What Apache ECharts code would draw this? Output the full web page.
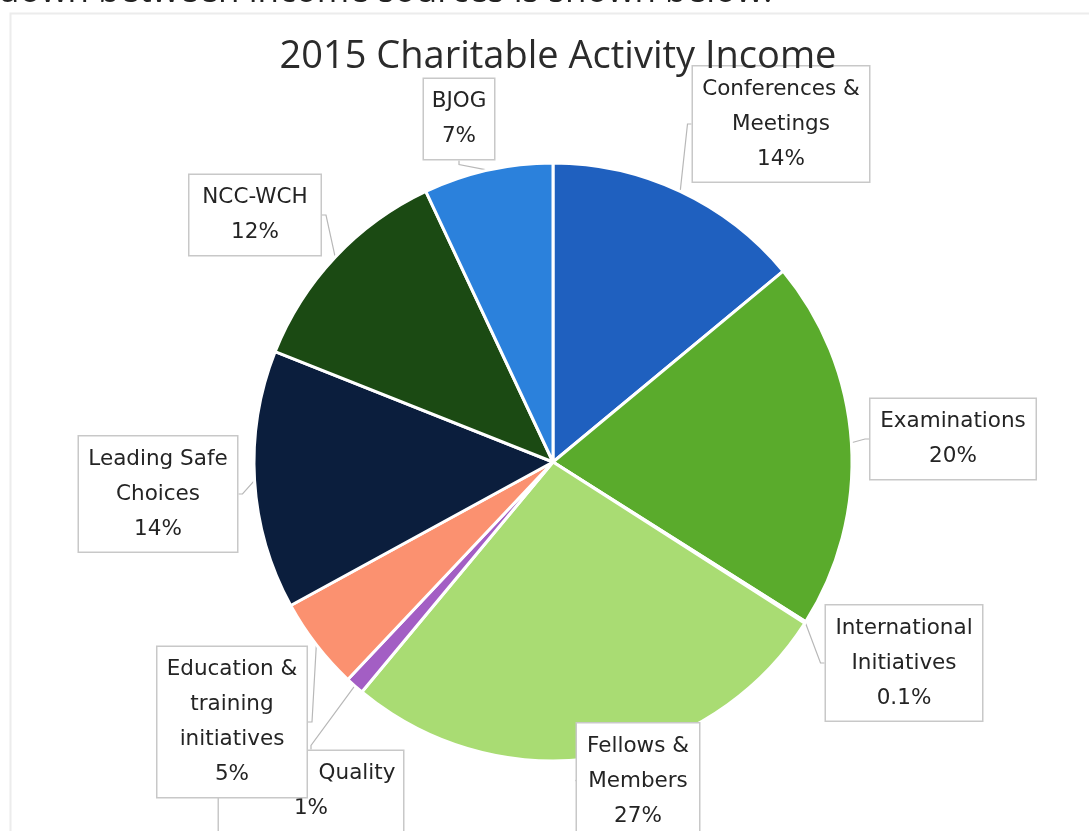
<!DOCTYPE html>
<html>
<head>
<meta charset="utf-8">
<title>2015 Charitable Activity Income</title>
<script src="https://cdn.jsdelivr.net/npm/echarts@6/dist/echarts.min.js"></script>
<style>
  html, body { margin: 0; padding: 0; background: #ffffff; }
  #chart { width: 1089px; height: 831px; }
</style>
</head>
<body>
<div id="chart"></div>
<script>
// Income sources, clockwise from twelve o'clock
const categories = [
  'Conferences &\nMeetings',
  'Examinations',
  'International\nInitiatives',
  'Fellows &\nMembers',
  'Quality',
  'Education &\ntraining\ninitiatives',
  'Leading Safe\nChoices',
  'NCC-WCH',
  'BJOG'
];
// Share of income, percent
const values = [14, 20, 0.1, 27, 1, 5, 14, 12, 7];
// Slice fills
const colors = [
  '#1f60bf', '#5aab2c', '#9cc7ef', '#a9dc73', '#a35ec4',
  '#fb9170', '#0b1e3d', '#1b4a13', '#2b81dc'
];

// Callout box centres (px) and inner widths
const calloutLayout = {
  'Conferences &\nMeetings': { x: 781, y: 124, w: 160 },
  'Examinations': { x: 953, y: 439, w: 149 },
  'International\nInitiatives': { x: 904, y: 663, w: 140 },
  'Fellows &\nMembers': { x: 638, y: 781, w: 106 },
  'Quality': { x: 311, y: 791, w: 168 },
  'Education &\ntraining\ninitiatives': { x: 232, y: 722, w: 133 },
  'Leading Safe\nChoices': { x: 158, y: 494, w: 142 },
  'NCC-WCH': { x: 255, y: 215, w: 115 },
  'BJOG': { x: 459, y: 119, w: 54 }
};

const chart = echarts.init(document.getElementById('chart'), null, { renderer: 'canvas' });

const labelFont = 'DejaVu Sans';
const labelSize = 21.5;

const seriesData = categories.map((name, i) => {
  const item = {
    name: name,
    value: values[i],
    itemStyle: { color: colors[i] },
    label: { width: calloutLayout[name].w }
  };
  if (name === 'Quality') {
    item.label.formatter = p => '{q|' + p.name + '}\n{p|' + p.value + '%}';
  }
  return item;
});

chart.setOption({
  animation: false,
  backgroundColor: '#ffffff',
  title: {
    text: '2015 Charitable Activity Income',
    left: 553,
    textAlign: 'center',
    top: 33,
    textStyle: {
      fontFamily: 'Open Sans',
      fontSize: 38,
      fontWeight: 'normal',
      color: '#2b2b2b'
    }
  },
  graphic: [
    {
      type: 'rect',
      silent: true,
      z: -1,
      shape: { x: 10.5, y: 13.5, width: 1100, height: 900 },
      style: { fill: 'none', stroke: '#ececec', lineWidth: 2 }
    },
    {
      type: 'text',
      silent: true,
      style: {
        x: -2,
        y: 10,
        text: 'down between income sources is shown below.',
        font: '35px "Open Sans"',
        fill: '#222',
        verticalAlign: 'bottom'
      }
    }
  ],
  series: [
    {
      type: 'pie',
      center: [553, 462],
      radius: 299,
      startAngle: 90,
      clockwise: true,
      avoidLabelOverlap: false,
      itemStyle: { borderColor: '#ffffff', borderWidth: 3 },
      label: {
        show: true,
        position: 'outside',
        formatter: '{b}\n{c}%',
        fontFamily: labelFont,
        fontSize: labelSize,
        lineHeight: 35,
        color: '#242424',
        align: 'center',
        overflow: 'none',
        backgroundColor: '#ffffff',
        borderColor: '#c8c8c8',
        borderWidth: 1.5,
        padding: [5, 8, 5, 8],
        rich: {
          q: { fontFamily: labelFont, fontSize: labelSize, lineHeight: 35, color: '#242424', padding: [0, 0, 0, 92] },
          p: { fontFamily: labelFont, fontSize: labelSize, lineHeight: 35, color: '#242424' }
        }
      },
      labelLine: {
        show: true,
        length: 4,
        length2: 4,
        smooth: false,
        lineStyle: { color: '#b8b8b8', width: 1.2 }
      },
      labelLayout: function (params) {
        const pos = calloutLayout[categories[params.dataIndex]];
        return {
          x: pos.x,
          y: pos.y,
          align: 'center',
          verticalAlign: 'middle',
          moveOverlap: false,
          hideOverlap: false
        };
      },
      emphasis: { disabled: true },
      data: seriesData
    }
  ]
});
</script>
</body>
</html>
